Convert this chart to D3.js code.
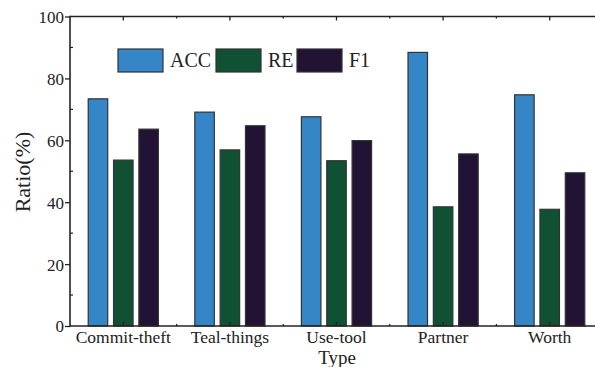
<!DOCTYPE html>
<html>
<head>
<meta charset="utf-8">
<script src="https://cdn.jsdelivr.net/npm/d3@7"></script>
<style>
  html, body { margin: 0; padding: 0; background: #fff; }
  svg { display: block; }
</style>
</head>
<body>
<svg id="chart" width="595" height="367"></svg>
<script>
// Categories and series
const categories = ["Commit-theft", "Teal-things", "Use-tool", "Partner", "Worth"];
const seriesNames = ["ACC", "RE", "F1"];
const accValues = [73.4, 69.1, 67.6, 88.4, 74.7];
const reValues  = [53.6, 56.9, 53.4, 38.5, 37.7];
const f1Values  = [63.6, 64.7, 59.9, 55.6, 49.5];
const yTicks = [0, 20, 40, 60, 80, 100];
const yMinorTicks = [10, 30, 50, 70, 90];

const seriesValues = { ACC: accValues, RE: reValues, F1: f1Values };
const colors = { ACC: "#3486c6", RE: "#0f5132", F1: "#221233" };
const SERIF = "'Liberation Serif', 'Times New Roman', serif";

const svg = d3.select("#chart");
const plotL = 70, plotR = 603, plotT = 16.5, plotB = 326;

const x0 = d3.scaleBand().domain(categories).range([plotL, plotR]).padding(0);
const groupW = 76;
const x1 = d3.scaleBand().domain(seriesNames)
  .range([(x0.bandwidth() - groupW) / 2, (x0.bandwidth() + groupW) / 2])
  .paddingInner(0.23).paddingOuter(0.115);
const y = d3.scaleLinear().domain([0, 100]).range([plotB, plotT]);

// Bars
const rows = categories.map((c, i) => ({ cat: c, vals: seriesNames.map(s => ({ s, v: seriesValues[s][i] })) }));
svg.append("g").selectAll("g.grp").data(rows).join("g")
  .attr("class", "grp")
  .attr("transform", d => `translate(${x0(d.cat)},0)`)
  .selectAll("rect").data(d => d.vals).join("rect")
  .attr("x", d => x1(d.s))
  .attr("y", d => y(d.v))
  .attr("width", x1.bandwidth())
  .attr("height", d => y(0) - y(d.v))
  .attr("fill", d => colors[d.s])
  .attr("stroke", "#333")
  .attr("stroke-width", 1.2);

// Left axis: major ticks outward, minor ticks inward
const yAxis = d3.axisLeft(y).tickValues(yTicks).tickSize(5).tickPadding(1).tickFormat(d3.format("d"));
const ya = svg.append("g").attr("transform", `translate(${plotL},0)`).call(yAxis);
ya.style("font-family", SERIF);
ya.select(".domain").remove();
ya.selectAll("line").attr("stroke", "#222").attr("stroke-width", 1.3);
ya.selectAll("text").style("font-family", SERIF).style("font-size", "17px")
  .attr("fill", "#222").attr("dy", "0.35em");
svg.append("g").selectAll("line").data(yMinorTicks).join("line")
  .attr("x1", plotL).attr("x2", plotL + 3)
  .attr("y1", d => y(d)).attr("y2", d => y(d))
  .attr("stroke", "#222").attr("stroke-width", 1.2);

// Bottom axis labels
const xAxis = d3.axisBottom(x0).tickSize(0).tickPadding(5);
const xa = svg.append("g").attr("transform", `translate(0,${plotB})`).call(xAxis);
xa.style("font-family", SERIF);
xa.select(".domain").remove();
xa.selectAll("text").style("font-family", SERIF).style("font-size", "17.5px").attr("fill", "#222");

// Inward ticks: majors at category centres, minors at boundaries
const centers = categories.map(c => x0(c) + x0.bandwidth() / 2);
const bounds = categories.slice(1).map(c => x0(c));
const tickG = svg.append("g").attr("stroke", "#222").attr("stroke-width", 1.3);
tickG.selectAll("line.bmaj").data(centers).join("line").attr("class", "bmaj")
  .attr("x1", d => d).attr("x2", d => d).attr("y1", plotB).attr("y2", plotB - 4);
tickG.selectAll("line.bmin").data(bounds).join("line").attr("class", "bmin")
  .attr("x1", d => d).attr("x2", d => d).attr("y1", plotB).attr("y2", plotB - 2);
tickG.selectAll("line.tmaj").data(centers).join("line").attr("class", "tmaj")
  .attr("x1", d => d).attr("x2", d => d).attr("y1", plotT).attr("y2", plotT + 4);
tickG.selectAll("line.tmin").data(bounds).join("line").attr("class", "tmin")
  .attr("x1", d => d).attr("x2", d => d).attr("y1", plotT).attr("y2", plotT + 2);

// Frame lines
const frame = svg.append("g").attr("stroke", "#222").attr("stroke-width", 1.6);
frame.append("line").attr("x1", plotL).attr("x2", plotR).attr("y1", plotB).attr("y2", plotB);
frame.append("line").attr("x1", plotL).attr("x2", plotR).attr("y1", plotT).attr("y2", plotT);
frame.append("line").attr("x1", plotL).attr("x2", plotL).attr("y1", plotT - 0.8).attr("y2", plotB + 0.8);

// Axis titles
svg.append("text").attr("x", 337).attr("y", 363.5).attr("text-anchor", "middle")
  .style("font-family", SERIF).style("font-size", "19px").attr("fill", "#222").text("Type");
svg.append("text").attr("transform", "translate(30,172) rotate(-90)")
  .attr("text-anchor", "middle")
  .style("font-family", SERIF).style("font-size", "22px").attr("fill", "#222").text("Ratio(%)");

// Legend
const legendX = [118, 216, 297];
const legend = svg.append("g").selectAll("g").data(seriesNames).join("g")
  .attr("transform", (d, i) => `translate(${legendX[i]},49)`);
legend.append("rect").attr("width", 45).attr("height", 23)
  .attr("fill", d => colors[d]).attr("stroke", "#333").attr("stroke-width", 1.2);
legend.append("text").attr("x", 52).attr("y", 18)
  .style("font-family", SERIF).style("font-size", "20px").attr("fill", "#222").text(d => d);
</script>
</body>
</html>
